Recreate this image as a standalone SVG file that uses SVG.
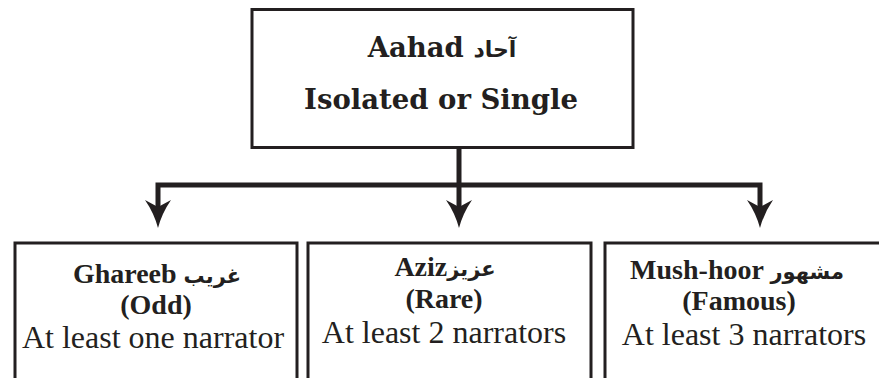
<svg xmlns="http://www.w3.org/2000/svg" width="879" height="378" viewBox="0 0 879 378">
<style>
.box{fill:#fff;stroke:#231f20;stroke-width:3}
.conn{fill:none;stroke:#231f20;stroke-width:5;stroke-linejoin:miter;stroke-linecap:butt}
.head{fill:#231f20}
.t1{font-family:"DejaVu Serif","Liberation Serif",serif;font-weight:bold;font-size:27.5px;fill:#231f20}
.b{font-family:"Liberation Serif","Times New Roman",serif;font-weight:bold;font-size:28px;fill:#231f20}
.r{font-family:"Liberation Serif","Times New Roman",serif;font-size:32px;fill:#231f20}
.ar{font-family:"DejaVu Sans",sans-serif;font-weight:bold}
</style>
<rect width="879" height="378" fill="#fff"/>
<g id="connectors">
<path class="conn" d="M459,147 V208"/>
<path class="conn" d="M158,209 V185 H760 V209"/>
<path class="head" d="M158,228 Q154,213 145,200 L158,207 L171,200 Q162,213 158,228 Z"/>
<path class="head" d="M459,228 Q455,213 446,200 L459,207 L472,200 Q463,213 459,228 Z"/>
<path class="head" d="M760,228 Q756,213 747,200 L760,207 L773,200 Q764,213 760,228 Z"/>
</g>
<g id="aahad">
<rect class="box" x="252" y="9.5" width="381" height="138"/>
<text class="t1" x="442" y="57" text-anchor="middle">Aahad <tspan class="ar" font-size="22">آحاد</tspan></text>
<text class="t1" x="441" y="109" text-anchor="middle">Isolated or Single</text>
</g>
<g id="ghareeb">
<rect class="box" x="15" y="243" width="282" height="150"/>
<text class="b" x="157" y="283" text-anchor="middle">Ghareeb <tspan class="ar" font-size="21">غريب</tspan></text>
<text class="b" x="156" y="314" text-anchor="middle">(Odd)</text>
<text class="r" x="153" y="348" text-anchor="middle">At least one narrator</text>
</g>
<g id="aziz">
<rect class="box" x="308" y="243" width="283" height="150"/>
<text class="b" x="445" y="276" text-anchor="middle">Aziz<tspan class="ar" font-size="21">عزيز</tspan></text>
<text class="b" x="444" y="308" text-anchor="middle">(Rare)</text>
<text class="r" x="444" y="343" text-anchor="middle">At least 2 narrators</text>
</g>
<g id="mushhoor">
<rect class="box" x="605" y="243" width="290" height="150"/>
<text class="b" x="737" y="279" text-anchor="middle">Mush-hoor <tspan class="ar" font-size="21">مشهور</tspan></text>
<text class="b" x="739" y="310" text-anchor="middle">(Famous)</text>
<text class="r" x="744" y="345" text-anchor="middle">At least 3 narrators</text>
</g>
</svg>
